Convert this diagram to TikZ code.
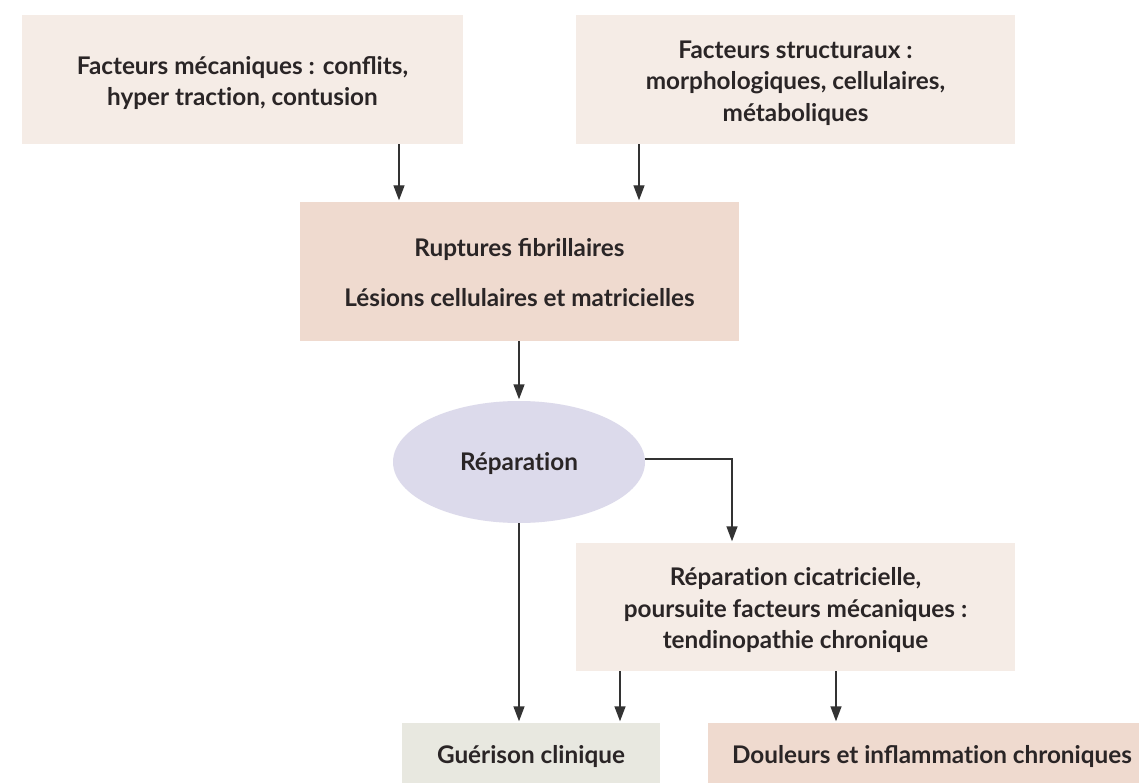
\documentclass[tikz,border=0pt]{standalone}
\usepackage{fontspec}
\setmainfont{Lato}
\usetikzlibrary{arrows.meta,shapes.geometric,calc}
\definecolor{boxlight}{HTML}{F5ECE6}
\definecolor{boxdark}{HTML}{EFDACF}
\definecolor{ellfill}{HTML}{DCDAEB}
\definecolor{greenbox}{HTML}{E8E8E0}
\definecolor{txt}{HTML}{2A2526}
\definecolor{linec}{HTML}{333333}
\newcommand\tii{t\kern0pt i}
\begin{document}
\begin{tikzpicture}[x=1pt,y=-1pt,
  every node/.style={font=\fontsize{24.3}{31.5}\selectfont\bfseries, text=txt, align=center, inner sep=0pt},
  boxl/.style={rectangle, fill=boxlight},
  boxd/.style={rectangle, fill=boxdark},
  lbl/.style={yshift=-3.5pt},
  arr/.style={draw=linec, line width=1.4pt, shorten >=1.5pt, -{Triangle[length=15pt,width=11pt]}}]
\useasboundingbox (0,0) rectangle (1139,783);
\fill[white] (0,0) rectangle (1139,783);
% boxes
\node[boxl, minimum width=441pt, minimum height=129pt] (b1) at (242.5,79.5) {};
\node[boxl, minimum width=439pt, minimum height=129pt] (b2) at (795.5,79.5) {};
\node[boxd, minimum width=439pt, minimum height=139pt] (b3) at (519.5,271.5) {};
\node[ellipse, fill=ellfill, minimum width=252pt, minimum height=122pt] (el) at (519,462) {};
\node[boxl, minimum width=439pt, minimum height=128pt] (b4) at (795.5,607) {};
\node[rectangle, fill=greenbox, minimum width=258pt, minimum height=62pt] (b5) at (531,754) {};
\node[boxd, minimum width=448pt, minimum height=62pt] (b6) at (932,754) {};
% texts
\node[lbl] (t1) at (b1.center) {Facteurs mécaniques : conflits,\\hyper trac\tii on, contusion};
\node[lbl] (t2) at (b2.center) {Facteurs structuraux :\\morphologiques, cellulaires,\\métaboliques};
\node (t3a) at (519.5,249.5) {Ruptures fibrillaires};
\node (t3b) at (519.5,297.5) {Lésions cellulaires et matricielles};
\node[yshift=-2pt] (tel) at (el.center) {Répara\tii on};
\node[lbl] (t4) at (b4.center) {Répara\tii on cicatricielle,\\poursuite facteurs mécaniques :\\tendinopathie chronique};
\node[yshift=-2pt] (t5) at (b5.center) {Guérison clinique};
\node[yshift=-2pt] (t6) at (b6.center) {Douleurs et inflamma\tii on chroniques};
% connectors
\coordinate (xa) at (399,0);
\coordinate (xb) at (639,0);
\coordinate (xc) at (519,0);
\coordinate (xd) at (732,0);
\coordinate (xe) at (620,0);
\coordinate (xf) at (836,0);
\coordinate (ye) at (0,459);
\draw[arr] (b1.south -| xa) -- (b3.north -| xa);
\draw[arr] (b2.south -| xb) -- (b3.north -| xb);
\draw[arr] (b3.south -| xc) -- (el.north -| xc);
\draw[arr] (el.east |- ye) -| (b4.north -| xd);
\draw[arr] (el.south -| xc) -- (b5.north -| xc);
\draw[arr] (b4.south -| xe) -- (b5.north -| xe);
\draw[arr] (b4.south -| xf) -- (b6.north -| xf);
\end{tikzpicture}
\end{document}
